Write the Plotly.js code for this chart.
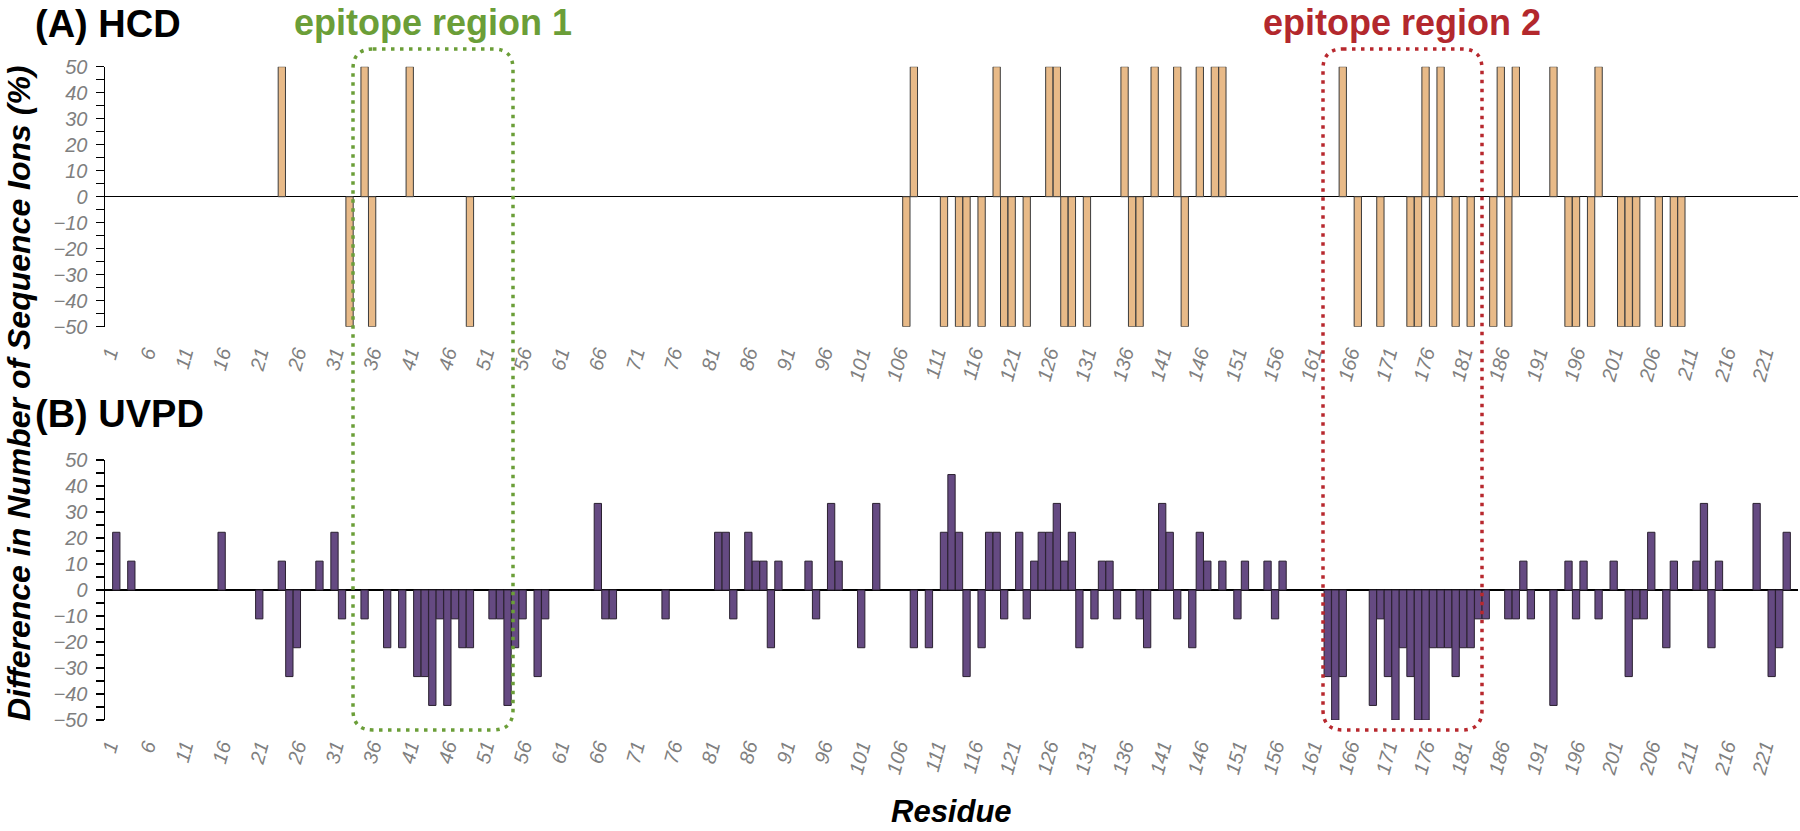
<!DOCTYPE html>
<html>
<head>
<meta charset="utf-8">
<script src="https://cdn.plot.ly/plotly-3.0.1.min.js"></script>
<style>html,body{margin:0;padding:0;background:#fff;}#chart{width:1800px;height:831px;}</style>
</head>
<body>
<div id="chart"></div>
<script>
// ---- Data ----
const hcdResidue = [24,33,35,36,41,49,107,108,112,114,115,117,119,120,121,123,126,127,128,129,131,136,137,138,140,143,144,146,148,149,165,167,170,174,175,176,177,178,180,182,185,186,187,188,193,195,196,198,199,202,203,204,207,209,210];
const hcdValue   = [50,-50,50,-50,50,-50,-50,50,-50,-50,-50,-50,50,-50,-50,-50,50,50,-50,-50,-50,50,-50,-50,50,50,-50,50,50,50,50,-50,-50,-50,-50,50,-50,50,-50,-50,-50,50,-50,50,50,-50,-50,-50,50,-50,-50,-50,-50,-50,-50];

const uvpdResidue = [2,4,16,21,24,25,26,29,31,32,35,38,40,42,43,44,45,46,47,48,49,52,53,54,55,56,58,59,66,67,68,75,82,83,84,86,87,88,89,90,94,95,97,98,101,103,108,110,112,113,114,115,117,118,119,120,122,123,124,125,126,127,128,129,130,132,133,134,135,138,139,141,142,143,145,146,147,149,151,152,155,156,157,163,164,165,169,170,171,172,173,174,175,176,177,178,179,180,181,182,183,184,187,188,189,190,193,195,196,197,199,201,203,204,205,206,208,209,212,213,214,215,220,222,223,224];
const uvpdValue   = [22.2,11.1,22.2,-11.1,11.1,-33.3,-22.2,11.1,22.2,-11.1,-11.1,-22.2,-22.2,-33.3,-33.3,-44.4,-11.1,-44.4,-11.1,-22.2,-22.2,-11.1,-11.1,-44.4,-22.2,-11.1,-33.3,-11.1,33.3,-11.1,-11.1,-11.1,22.2,22.2,-11.1,22.2,11.1,11.1,-22.2,11.1,11.1,-11.1,33.3,11.1,-22.2,33.3,-22.2,-22.2,22.2,44.4,22.2,-33.3,-22.2,22.2,22.2,-11.1,22.2,-11.1,11.1,22.2,22.2,33.3,11.1,22.2,-22.2,-11.1,11.1,11.1,-11.1,-11.1,-22.2,33.3,22.2,-11.1,-22.2,22.2,11.1,11.1,-11.1,11.1,11.1,-11.1,11.1,-33.3,-50,-33.3,-44.4,-11.1,-33.3,-50,-22.2,-33.3,-50,-50,-22.2,-22.2,-22.2,-33.3,-22.2,-22.2,-11.1,-11.1,-11.1,-11.1,11.1,-11.1,-44.4,11.1,-11.1,11.1,-11.1,11.1,-33.3,-11.1,-11.1,22.2,-22.2,11.1,11.1,33.3,-22.2,11.1,33.3,-33.3,-22.2,22.2];

const residueFirst = 1, residueLast = 225, residueTickStep = 5;
const yTicksMin = -50, yTicksMax = 50;

// ---- Layout helpers (pixel -> paper, margins are 0) ----
const W = 1800, H = 831;
const px = v => v / W;
const py = v => 1 - v / H;
const FONT = 'Liberation Sans, Arial, sans-serif';

function roundRect(x0, y0, x1, y1, r) {
  const rx = r / W, ry = r / H;
  const X0 = px(x0), X1 = px(x1), Y0 = py(y0), Y1 = py(y1);
  return `M ${X0+rx},${Y0} L ${X1-rx},${Y0} Q ${X1},${Y0} ${X1},${Y0-ry} ` +
         `L ${X1},${Y1+ry} Q ${X1},${Y1} ${X1-rx},${Y1} L ${X0+rx},${Y1} ` +
         `Q ${X0},${Y1} ${X0},${Y1+ry} L ${X0},${Y0-ry} Q ${X0},${Y0} ${X0+rx},${Y0} Z`;
}

const traces = [
  { type: 'bar', x: hcdResidue, y: hcdValue, xaxis: 'x', yaxis: 'y',
    marker: { color: '#E8BA88', line: { color: '#3c3c3c', width: 1 } },
    cliponaxis: false, hoverinfo: 'x+y' },
  { type: 'bar', x: uvpdResidue, y: uvpdValue, xaxis: 'x2', yaxis: 'y2',
    marker: { color: '#654A82', line: { color: '#2a2030', width: 1 } },
    cliponaxis: false, hoverinfo: 'x+y' }
];

const xDomain = [px(105), px(1798)];
const tickFont = { family: FONT, size: 20, color: '#7f7f7f', style: 'italic' };

function xAxis(anchor) {
  return {
    domain: xDomain, anchor: anchor, range: [residueFirst - 0.5, residueLast + 0.5],
    tick0: residueFirst, dtick: residueTickStep, tickmode: 'linear',
    showgrid: false, zeroline: false, showline: false, ticks: '',
    tickangle: -75, tickfont: tickFont, ticklabelstandoff: 10, automargin: false
  };
}
function yAxis(domain, anchor) {
  return {
    domain: domain, anchor: anchor, range: [yTicksMin, yTicksMax], dtick: 10, tick0: 0,
    showgrid: false, showline: true, linecolor: '#000', linewidth: 1.5,
    ticks: 'outside', ticklen: 8, tickwidth: 1.5, tickcolor: '#000',
    minor: { dtick: 5, ticks: 'outside', ticklen: 8, tickwidth: 1.5, tickcolor: '#000', showgrid: false },
    zeroline: true, zerolinecolor: '#000', zerolinewidth: 1.5,
    tickfont: tickFont, ticklabelstandoff: 4, automargin: false
  };
}

const layout = {
  width: W, height: H, margin: { l: 0, r: 0, t: 0, b: 0 },
  paper_bgcolor: '#fff', plot_bgcolor: 'rgba(0,0,0,0)',
  showlegend: false, bargap: 0.03,
  xaxis: xAxis('y'),
  yaxis: yAxis([py(326.7), py(66.7)], 'x'),
  xaxis2: xAxis('y2'),
  yaxis2: yAxis([py(720), py(460)], 'x2'),
  shapes: [
    { type: 'path', xref: 'paper', yref: 'paper', path: roundRect(353, 49, 513, 730, 20),
      line: { color: '#6B9E38', width: 3.5, dash: '3.5px,5.5px' }, layer: 'above' },
    { type: 'path', xref: 'paper', yref: 'paper', path: roundRect(1323, 49, 1482, 730, 20),
      line: { color: '#B8282E', width: 3.5, dash: '3.5px,5.5px' }, layer: 'above' }
  ],
  annotations: [
    { text: '<b>(A) HCD</b>', xref: 'paper', yref: 'paper', x: px(33), y: py(24),
      xanchor: 'left', yanchor: 'middle', showarrow: false, font: { family: FONT, size: 38, color: '#000' } },
    { text: '<b>(B) UVPD</b>', xref: 'paper', yref: 'paper', x: px(33), y: py(414),
      xanchor: 'left', yanchor: 'middle', showarrow: false, font: { family: FONT, size: 38, color: '#000' } },
    { text: '<b>epitope region 1</b>', xref: 'paper', yref: 'paper', x: px(433), y: py(22),
      xanchor: 'center', yanchor: 'middle', showarrow: false, font: { family: FONT, size: 36, color: '#6B9E38' } },
    { text: '<b>epitope region 2</b>', xref: 'paper', yref: 'paper', x: px(1402), y: py(22),
      xanchor: 'center', yanchor: 'middle', showarrow: false, font: { family: FONT, size: 36, color: '#B3282D' } },
    { text: '<b><i>Difference in Number of Sequence Ions (%)</i></b>', xref: 'paper', yref: 'paper',
      x: px(19), y: py(393), xanchor: 'center', yanchor: 'middle', textangle: -90, showarrow: false,
      font: { family: FONT, size: 32, color: '#000' } },
    { text: '<b><i>Residue</i></b>', xref: 'paper', yref: 'paper', x: px(951), y: py(811),
      xanchor: 'center', yanchor: 'middle', showarrow: false, font: { family: FONT, size: 31, color: '#000' } }
  ]
};

Plotly.newPlot('chart', traces, layout, { staticPlot: true, displayModeBar: false });
</script>
</body>
</html>
